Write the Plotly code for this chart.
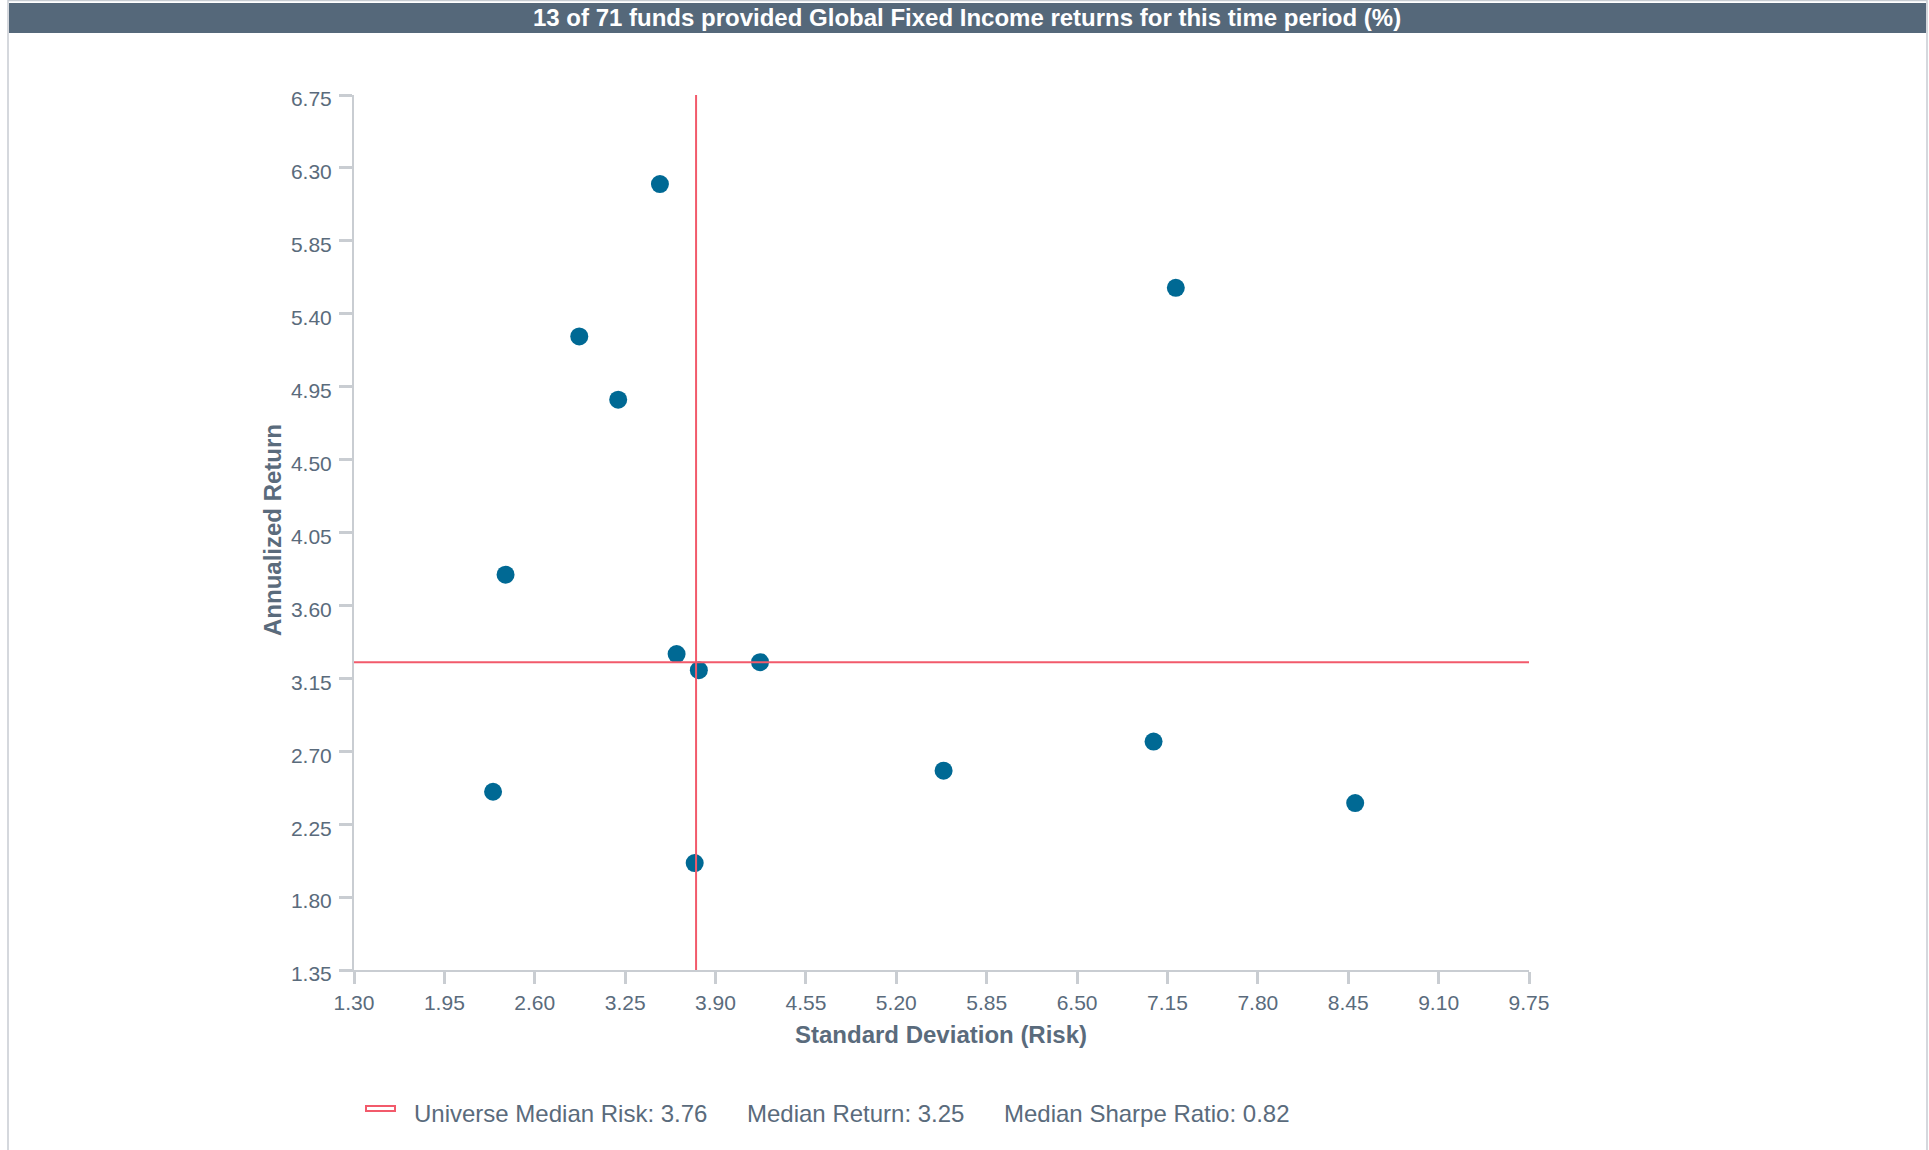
import plotly.graph_objects as go

# ---- data ----
std_dev = [3.50, 7.21, 2.92, 3.20, 2.39, 3.62, 3.78, 4.22, 2.30, 3.75, 5.54, 7.05, 8.50]
ann_return = [6.20, 5.56, 5.26, 4.87, 3.79, 3.30, 3.20, 3.25, 2.45, 2.01, 2.58, 2.76, 2.38]
median_risk = 3.76
median_return = 3.25
median_sharpe = 0.82
x_ticks = [1.30, 1.95, 2.60, 3.25, 3.90, 4.55, 5.20, 5.85, 6.50, 7.15, 7.80, 8.45, 9.10, 9.75]
y_ticks = [1.35, 1.80, 2.25, 2.70, 3.15, 3.60, 4.05, 4.50, 4.95, 5.40, 5.85, 6.30, 6.75]
title_text = "13 of 71 funds provided Global Fixed Income returns for this time period (%)"
x_title = "Standard Deviation (Risk)"
y_title = "Annualized Return"

# ---- layout constants ----
W, H = 1929, 1150
L, R, T, B = 354, 400, 95, 180
FONT = "Liberation Sans, Arial, Helvetica, sans-serif"
TXT = "#5a6b7c"
AXC = "#c9cdd2"
RED = "#f25a6b"
DOT = "#006994"


def px_x(px):
    return (px - L) / (W - L - R)


def px_y(py):
    return (H - B - py) / (H - T - B)


fig = go.Figure()

fig.add_trace(go.Scatter(
    x=std_dev, y=ann_return, mode="markers",
    marker=dict(color=DOT, size=18, line=dict(width=0)),
    showlegend=False, hoverinfo="x+y",
))

# median lines from data
fig.add_trace(go.Scatter(
    x=[median_risk, median_risk], y=[y_ticks[0], y_ticks[-1]], mode="lines",
    line=dict(color=RED, width=2), showlegend=False, hoverinfo="skip",
))
fig.add_trace(go.Scatter(
    x=[x_ticks[0], x_ticks[-1]], y=[median_return, median_return], mode="lines",
    line=dict(color=RED, width=2), showlegend=False, hoverinfo="skip",
))

shapes = [
    # outer border
    dict(type="rect", xref="paper", yref="paper",
         x0=px_x(8), x1=px_x(1927), y0=px_y(1160), y1=px_y(0.5),
         line=dict(color="#c7ccd2", width=1.5), fillcolor="rgba(0,0,0,0)", layer="below"),
    # header bar
    dict(type="rect", xref="paper", yref="paper",
         x0=px_x(9), x1=px_x(1926), y0=px_y(33), y1=px_y(3),
         line=dict(width=0), fillcolor="#55687a", layer="below"),
    # legend marker
    dict(type="rect", xref="paper", yref="paper",
         x0=px_x(366), x1=px_x(395), y0=px_y(1111), y1=px_y(1106),
         line=dict(color=RED, width=2), fillcolor="white"),
]

annotations = [
    dict(text="<b>" + title_text + "</b>", xref="paper", yref="paper",
         x=px_x(967), y=px_y(18), xanchor="center", yanchor="middle",
         showarrow=False, font=dict(family=FONT, size=24, color="white")),
    dict(text="<b>" + x_title + "</b>", xref="paper", yref="paper",
         x=px_x(941), y=px_y(1034), xanchor="center", yanchor="middle",
         showarrow=False, font=dict(family=FONT, size=24, color=TXT)),
    dict(text="<b>" + y_title + "</b>", xref="paper", yref="paper",
         x=px_x(272), y=px_y(530), xanchor="center", yanchor="middle", textangle=-90,
         showarrow=False, font=dict(family=FONT, size=24, color=TXT)),
    dict(text=f"Universe Median Risk: {median_risk:.2f}", xref="paper", yref="paper",
         x=px_x(412), y=px_y(1113), xanchor="left", yanchor="middle",
         showarrow=False, font=dict(family=FONT, size=24, color=TXT)),
    dict(text=f"Median Return: {median_return:.2f}", xref="paper", yref="paper",
         x=px_x(745), y=px_y(1113), xanchor="left", yanchor="middle",
         showarrow=False, font=dict(family=FONT, size=24, color=TXT)),
    dict(text=f"Median Sharpe Ratio: {median_sharpe:.2f}", xref="paper", yref="paper",
         x=px_x(1002), y=px_y(1113), xanchor="left", yanchor="middle",
         showarrow=False, font=dict(family=FONT, size=24, color=TXT)),
]

fig.update_layout(
    width=W, height=H, autosize=False,
    margin=dict(l=L, r=R, t=T, b=B, pad=0),
    paper_bgcolor="white", plot_bgcolor="white",
    font=dict(family=FONT, color=TXT),
    shapes=shapes, annotations=annotations,
    showlegend=False,
)
fig.update_xaxes(
    range=[x_ticks[0], x_ticks[-1]], tickmode="array", tickvals=x_ticks,
    ticktext=[f"{v:.2f}" for v in x_ticks],
    showgrid=False, zeroline=False, showline=True, linecolor=AXC, linewidth=2,
    ticks="outside", ticklen=12, tickwidth=3, tickcolor=AXC,
    tickfont=dict(family=FONT, size=21, color=TXT), ticklabelstandoff=1,
)
fig.update_yaxes(
    range=[y_ticks[0], y_ticks[-1]], tickmode="array", tickvals=y_ticks,
    ticktext=[f"{v:.2f}" for v in y_ticks],
    showgrid=False, zeroline=False, showline=True, linecolor=AXC, linewidth=2,
    ticks="outside", ticklen=13, tickwidth=3, tickcolor=AXC,
    tickfont=dict(family=FONT, size=21, color=TXT), ticklabelstandoff=3,
    ticklabelshift=4,
)

fig.write_html("out.html", config={"displayModeBar": False},
               post_script="document.body.style.margin='0';document.body.style.overflow='hidden';")
